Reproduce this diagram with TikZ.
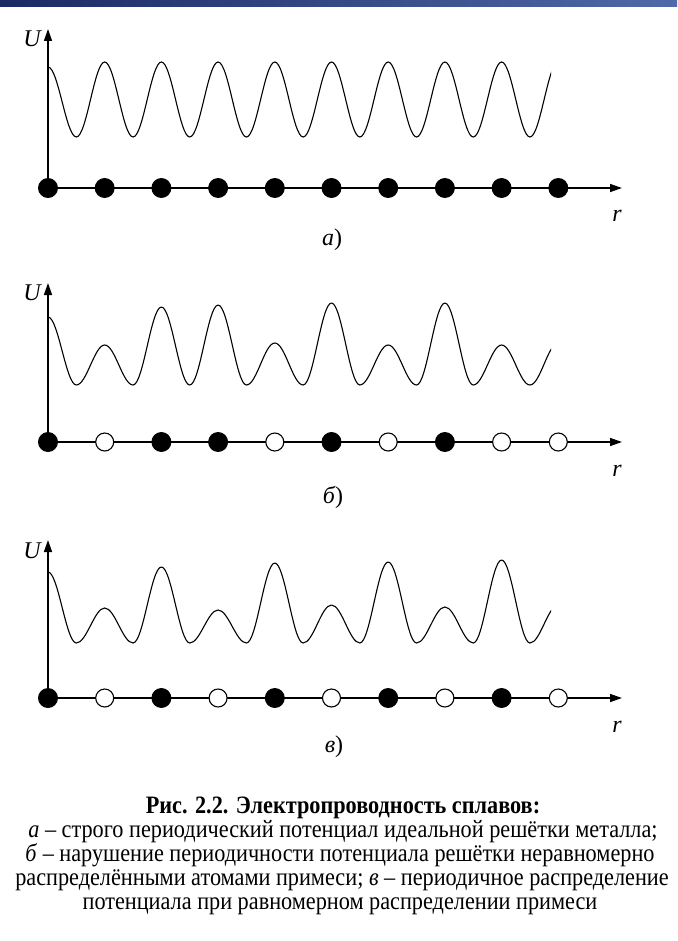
\documentclass[tikz,border=0pt]{standalone}
\usepackage{fontspec}
\setmainfont{Liberation Serif}
\newfontfamily\didafont{Liberation Serif}[FakeStretch=0.89]
\usetikzlibrary{arrows.meta}
\definecolor{blunotte}{HTML}{1B2A63}
\definecolor{bluchiaro}{HTML}{5069A8}

\begin{document}
\begin{tikzpicture}[x=1pt, y=-1pt,
    asse/.style={line width=1.5pt, -{Triangle[length=12pt,width=8pt]}},
    pieno/.style={circle, draw, fill=black, line width=0.9pt, minimum size=19pt, inner sep=0pt},
    vuoto/.style={circle, draw, fill=white, line width=1.1pt, minimum size=18pt, inner sep=0pt},
    onda/.style={line width=1.1pt, line join=round},
    etich/.style={font=\fontsize{24}{24}\selectfont\itshape, inner sep=0pt},
    dida/.style={font=\didafont\fontsize{25}{26}\selectfont, anchor=base, inner sep=0pt}]
    \useasboundingbox (0,0) rectangle (677,941);
    % banda in alto
    \shade[left color=blunotte, right color=bluchiaro] (0,0) rectangle (677,7);
    \def\d{56.7} % passo del reticolo
    \def\xo{48}  % origine
    % Pannello a
    \coordinate (Oa) at (\xo,188);
    \coordinate (Ua) at (\xo,29);
    \coordinate (Ra) at (622,188);
    \draw[asse] (Oa) -- (Ua);
    \draw[asse] (Oa) -- (Ra);
    \begin{scope}
        \clip (40,0) rectangle (551,260);
        \draw[onda] (\xo,67) foreach \i/\h [remember=\h as \hp (initially 67)] in
            {1/62,2/62,3/62,4/62,5/62,6/62,7/62,8/62,9/62} {
            cos ({\xo+(\i-0.75)*\d},{(\hp+137)/2}) sin ({\xo+(\i-0.5)*\d},137)
            cos ({\xo+(\i-0.25)*\d},{(\h+137)/2}) sin ({\xo+\i*\d},\h) };
    \end{scope}
    \foreach \i/\k in {0/pieno,1/pieno,2/pieno,3/pieno,4/pieno,5/pieno,6/pieno,7/pieno,8/pieno,9/pieno}
        \node[\k] (a\i) at ({\xo+\i*\d},188) {};
    \node[etich] (lUa) at (32,39) {U};
    \node[etich] (lra) at (617,216) {r};
    \node[etich] (la) at (332,240) {а\upshape)};
    % Pannello b
    \coordinate (Ob) at (\xo,442);
    \coordinate (Ub) at (\xo,283);
    \coordinate (Rb) at (622,442);
    \draw[asse] (Ob) -- (Ub);
    \draw[asse] (Ob) -- (Rb);
    \begin{scope}
        \clip (40,260) rectangle (551,520);
        \draw[onda] (\xo,317) foreach \i/\h [remember=\h as \hp (initially 317)] in
            {1/345,2/307,3/305,4/343,5/303,6/345,7/303,8/345,9/343} {
            cos ({\xo+(\i-0.75)*\d},{(\hp+385)/2}) sin ({\xo+(\i-0.5)*\d},385)
            cos ({\xo+(\i-0.25)*\d},{(\h+385)/2}) sin ({\xo+\i*\d},\h) };
    \end{scope}
    \foreach \i/\k in {0/pieno,1/vuoto,2/pieno,3/pieno,4/vuoto,5/pieno,6/vuoto,7/pieno,8/vuoto,9/vuoto}
        \node[\k] (b\i) at ({\xo+\i*\d},442) {};
    \node[etich] (lUb) at (32,293) {U};
    \node[etich] (lrb) at (617,471) {r};
    \node[etich] (lb) at (333,497) {б\upshape)};
    % Pannello c
    \coordinate (Oc) at (\xo,698);
    \coordinate (Uc) at (\xo,540);
    \coordinate (Rc) at (622,698);
    \draw[asse] (Oc) -- (Uc);
    \draw[asse] (Oc) -- (Rc);
    \begin{scope}
        \clip (40,520) rectangle (551,780);
        \draw[onda] (\xo,572) foreach \i/\h [remember=\h as \hp (initially 572)] in
            {1/608,2/567,3/610,4/563,5/605,6/562,7/607,8/560,9/605} {
            cos ({\xo+(\i-0.75)*\d},{(\hp+643)/2}) sin ({\xo+(\i-0.5)*\d},643)
            cos ({\xo+(\i-0.25)*\d},{(\h+643)/2}) sin ({\xo+\i*\d},\h) };
    \end{scope}
    \foreach \i/\k in {0/pieno,1/vuoto,2/pieno,3/vuoto,4/pieno,5/vuoto,6/pieno,7/vuoto,8/pieno,9/vuoto}
        \node[\k] (c\i) at ({\xo+\i*\d},698) {};
    \node[etich] (lUc) at (32,551) {U};
    \node[etich] (lrc) at (617,727) {r};
    \node[etich] (lc) at (334,747) {в\upshape)};
    % Didascalia
    \node[dida] (cap1) at (343,813) {\bfseries Рис. 2.2. Электропроводность сплавов:};
    \node[dida] (cap2) at (343,837) {\textit{а} – строго периодический потенциал идеальной решётки металла;};
    \node[dida] (cap3) at (340,861) {\textit{б} – нарушение периодичности потенциала решётки неравномерно};
    \node[dida] (cap4) at (342,885) {распределёнными атомами примеси; \textit{в} – периодичное распределение};
    \node[dida] (cap5) at (340,909) {потенциала при равномерном распределении примеси};
\end{tikzpicture}
\end{document}
